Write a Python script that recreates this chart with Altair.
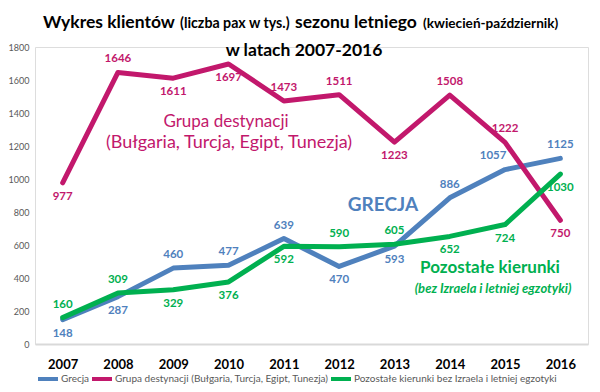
import altair as alt
import pandas as pd

years = ["2007", "2008", "2009", "2010", "2011", "2012", "2013", "2014", "2015", "2016"]
grecja = [148, 287, 460, 477, 639, 470, 593, 886, 1057, 1125]
grupa = [977, 1646, 1611, 1697, 1473, 1511, 1223, 1508, 1222, 750]
pozostale = [160, 309, 329, 376, 592, 590, 605, 652, 724, 1030]
series_names = [
    "Grecja",
    "Grupa destynacji (Bułgaria, Turcja, Egipt, Tunezja)",
    "Pozostałe kierunki bez Izraela i letniej egzotyki",
]
y_ticks = [0, 200, 400, 600, 800, 1000, 1200, 1400, 1600, 1800]

# label placement (style only)
side_grecja = ["below", "below", "above", "above", "above", "below", "below", "above", "aboveleft", "above"]
side_grupa = ["below", "above", "below", "below", "above", "above", "below", "above", "above", "below"]
side_poz = ["above", "above", "below", "below", "below", "above", "above", "below", "below", "below"]

colors = ["#4F81BD", "#C2186C", "#00B050"]
FONT = "Lato"

rows = []
for k, (name, vals, sides) in enumerate(zip(series_names, [grecja, grupa, pozostale], [side_grecja, side_grupa, side_poz])):
    for y, v, s in zip(years, vals, sides):
        rows.append({"year": y, "series": name, "value": v, "side": s, "order": k})
df = pd.DataFrame(rows)

x_scale = alt.Scale(type="point", padding=0.5)
y_scale = alt.Scale(domain=[0, 1800], nice=False, zero=True)

x_enc = alt.X(
    "year:O",
    scale=x_scale,
    axis=alt.Axis(
        title=None, labelAngle=0, labelFontWeight="bold", labelFontSize=13, labelColor="#000000",
        ticks=False, domainColor="#D9D9D9", domainWidth=2, labelPadding=14, labelFont=FONT,
    ),
)
y_enc = alt.Y(
    "value:Q",
    scale=y_scale,
    axis=alt.Axis(
        title=None, values=y_ticks, grid=False, domain=False, ticks=False, format="d",
        labelFontSize=9, labelColor="#595959", labelPadding=6, labelFont=FONT,
        labelFlush=False, labelOverlap=False,
    ),
)
color_scale = alt.Scale(domain=series_names, range=colors)

base = alt.Chart(df)

lines = base.mark_line(strokeWidth=5, strokeJoin="round", strokeCap="round").encode(
    x=x_enc,
    y=y_enc,
    color=alt.Color(
        "series:N",
        scale=color_scale,
        sort=series_names,
        legend=alt.Legend(
            orient="none", legendX=1, legendY=320, direction="horizontal", title=None,
            symbolType="stroke", symbolStrokeWidth=4, symbolSize=400, labelFontSize=10,
            labelColor="#595959", labelFont=FONT, columnPadding=-13, labelOffset=1,
            labelLimit=400,
        ),
    ),
    order=alt.Order("order:Q"),
)


def labels(side, dy, dx=0):
    return base.transform_filter(alt.datum.side == side).mark_text(
        fontSize=11.5, fontWeight="bold", font=FONT, dy=dy, dx=dx, baseline="middle"
    ).encode(
        x=x_enc,
        y=y_enc,
        text="value:Q",
        color=alt.Color("series:N", scale=color_scale, legend=None),
    )


lab_above = labels("above", -13)
lab_below = labels("below", 14)
lab_aboveleft = labels("aboveleft", -14, -12)


def txt(text, x, y, size, color, weight="bold", style="normal", align="center", baseline="alphabetic"):
    return alt.Chart(alt.Data(values=[{}])).mark_text(
        text=text, fontSize=size, fontWeight=weight, fontStyle=style, font=FONT,
        color=color, align=align, baseline=baseline,
    ).encode(x=alt.value(x), y=alt.value(y))


# positions relative to plot area (origin at absolute 35,47)
title_parts = [
    txt("Wykres klientów", 8, -19, 17.5, "#000000", align="left"),
    txt("(liczba pax w tys.)", 145, -19, 14.2, "#000000", align="left"),
    txt("sezonu letniego", 260, -19, 17.5, "#000000", align="left"),
    txt("(kwiecień-październik)", 388, -19, 13.6, "#000000", align="left"),
    txt("w latach 2007-2016", 269, 9, 17.5, "#000000"),
]
annotations = [
    txt("Grupa destynacji", 191, 80, 17, "#C2186C", weight="normal"),
    txt("(Bułgaria, Turcja, Egipt, Tunezja)", 194, 101, 18, "#C2186C", weight="normal"),
    txt("GRECJA", 348, 164, 19, "#4F81BD"),
    txt("Pozostałe kierunki", 455, 226, 17, "#00B050"),
    txt("(bez Izraela i letniej egzotyki)", 458, 246, 13, "#00B050", style="italic"),
]

chart = alt.layer(
    lines, lab_above, lab_below, lab_aboveleft, *title_parts, *annotations
).properties(
    width=553,
    height=297,
    autosize=alt.AutoSizeParams(type="none"),
    padding={"left": 27, "top": 39, "right": 4, "bottom": 40},
).configure_view(
    stroke=None
).configure(
    font=FONT
)

chart.save("out.html", embed_options={"renderer": "svg", "actions": False})
